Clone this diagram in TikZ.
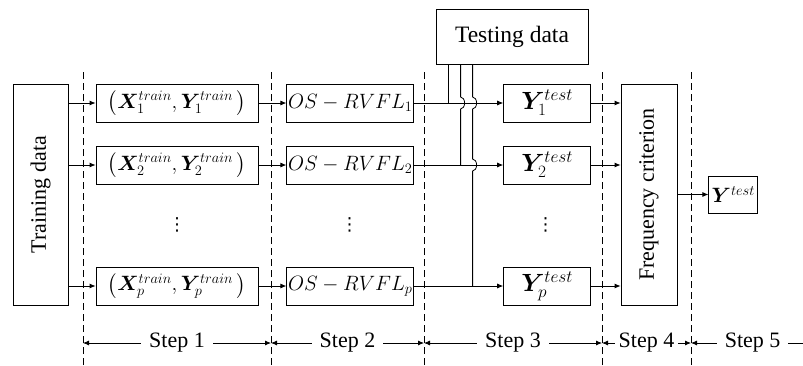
\documentclass[tikz,border=0pt]{standalone}
\usepackage{amsmath,bm}
\usepackage{fontspec}
\setmainfont{Liberation Serif}
\newfontfamily\symfont{DejaVu Sans}
\usetikzlibrary{arrows.meta,positioning,calc}

\begin{document}
\begin{tikzpicture}[x=1pt, y=1pt, >={Latex[length=6pt,width=5pt]}, line width=0.8pt,
  every node/.style={font=\fontsize{22}{26}\selectfont, align=center},
  box/.style={draw, inner sep=1pt, minimum height=38pt},
  bigmath/.style={font=\fontsize{23}{27}\selectfont},
  stepline/.style={dash pattern=on 7pt off 4pt, line width=0.7pt}]
\useasboundingbox (0,0) rectangle (803,365);
% step borders
\foreach \x [count=\i] in {83,271,424,602,691} {
  \draw[stepline] (\x,0) -- (\x,294);
  \coordinate (d\i) at (\x,22);
}
\coordinate (e5) at (803,22);
% boxes
\node (train) [box, minimum width=55pt, minimum height=221pt] at (40.5,170.5) {\rotatebox{90}{Training data}};
\node (xy1) [box, minimum width=162pt] at (177,262) {$\left(\bm{X}_1^{train},\bm{Y}_1^{train}\,\right)$};
\node (xy2) [box, minimum width=162pt] at (177,200) {$\left(\bm{X}_2^{train},\bm{Y}_2^{train}\,\right)$};
\node (xyp) [box, minimum width=162pt] at (177,79) {$\left(\bm{X}_p^{train},\bm{Y}_p^{train}\,\right)$};
\node (os1) [box, minimum width=127pt, right=28pt of xy1] {$OS-RVFL_1$};
\node (os2) [box, minimum width=127pt, right=28pt of xy2] {$OS-RVFL_2$};
\node (osp) [box, minimum width=127pt, right=28pt of xyp] {$OS-RVFL_p$};
\node (yt1) [box, bigmath, minimum width=87pt, right=89pt of os1] {$\bm{Y}_1^{test}$};
\node (yt2) [box, bigmath, minimum width=87pt, right=89pt of os2] {$\bm{Y}_2^{test}$};
\node (ytp) [box, bigmath, minimum width=87pt, right=89pt of osp] {$\bm{Y}_p^{test}$};
\node (test) [box, minimum width=152pt, minimum height=55pt, font=\fontsize{23.5}{28}\selectfont] at (512,328.5) {Testing data};
\node (freq) [box, minimum width=56pt, minimum height=221pt] at (649,170.5) {\rotatebox{90}{Frequency criterion}};
\node (yout) [box, minimum width=49pt, minimum height=37pt, right=31pt of freq] {$\bm{Y}^{test}$};
% dots
\node (v1) at (177,140) {\symfont\fontsize{18}{20}\selectfont ⋮};
\node (v2) at (349.5,140) {\symfont\fontsize{18}{20}\selectfont ⋮};
\node (v3) at (545.5,140) {\symfont\fontsize{18}{20}\selectfont ⋮};
% flow
\draw[->] (train.east |- xy1) -- (xy1);
\draw[->] (train.east |- xy2) -- (xy2);
\draw[->] (train.east |- xyp) -- (xyp);
\draw[->] (xy1) -- (os1);
\draw[->] (xy2) -- (os2);
\draw[->] (xyp) -- (osp);
\draw[->] (os1) -- (yt1);
\draw[->] (os2) -- (yt2);
\draw[->] (osp) -- (ytp);
\draw[->] (yt1) -- (freq.west |- yt1);
\draw[->] (yt2) -- (freq.west |- yt2);
\draw[->] (ytp) -- (freq.west |- ytp);
\draw[->] (freq) -- (yout);
% testing data feeds
\coordinate (ta) at ($(test.south west)+(13,0)$);
\coordinate (tb) at ($(test.south west)+(25,0)$);
\coordinate (tc) at ($(test.south west)+(37,0)$);
\draw (ta) -- (ta |- os1);
\draw (tb) -- ($(tb |- os1)+(0,6)$) arc[start angle=90, end angle=-90, x radius=4, y radius=6] -- (tb |- os2);
\draw (tc) -- ($(tc |- os1)+(0,6)$) arc[start angle=90, end angle=-90, x radius=4, y radius=6]
  -- ($(tc |- os2)+(0,6)$) arc[start angle=90, end angle=-90, x radius=4, y radius=6] -- (tc |- osp);
% steps
\draw[<->] (d1) -- node[fill=white, inner xsep=8pt] {Step 1} (d2);
\draw[<->] (d2) -- node[fill=white, inner xsep=8pt] {Step 2} (d3);
\draw[<->] (d3) -- node[fill=white, inner xsep=8pt] {Step 3} (d4);
\draw[<->] (d4) -- node[fill=white, inner xsep=4pt] {Step 4} (d5);
\draw[<-] (d5) -- node[pos=0.55, fill=white, inner xsep=8pt] {Step 5} (e5);
\end{tikzpicture}
\end{document}
